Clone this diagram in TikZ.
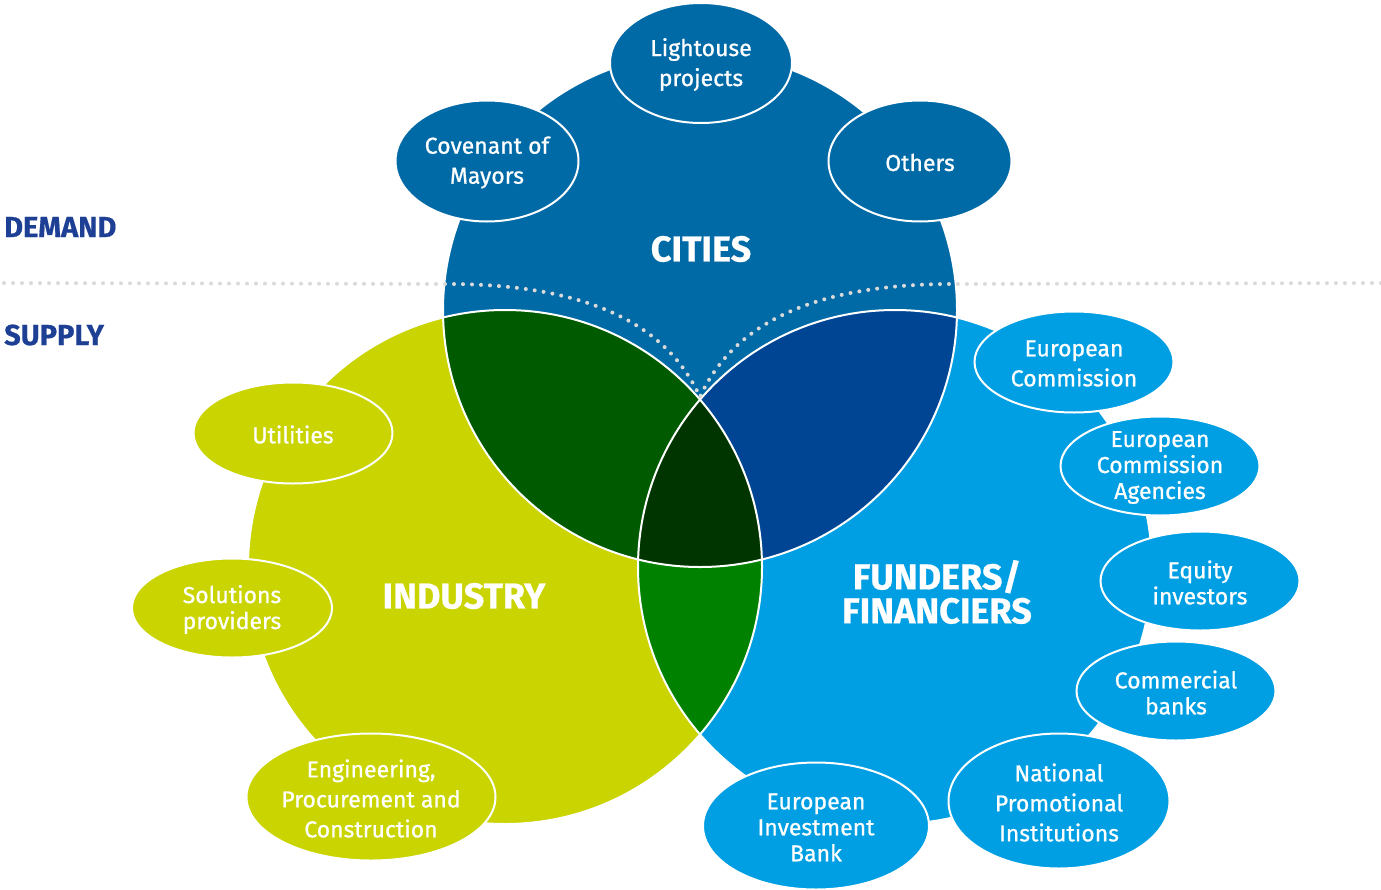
\documentclass[tikz,border=0pt]{standalone}
\usepackage{fontspec}
\setmainfont{Fira Sans}
\newfontfamily\medfont{Fira Sans}[FakeBold=0.8]
\newfontfamily\heavyfont{Fira Sans Bold}[FakeBold=0.6]
\usetikzlibrary{shapes.geometric}
\definecolor{cityblue}{HTML}{006AA7}
\definecolor{indyellow}{HTML}{C9D400}
\definecolor{fundblue}{HTML}{009FE3}
\definecolor{dkgreen}{HTML}{005A00}
\definecolor{navy}{HTML}{004494}
\definecolor{midgreen}{HTML}{008200}
\definecolor{triple}{HTML}{003500}
\definecolor{sidelbl}{HTML}{1D4094}
\definecolor{dotgray}{HTML}{DADADA}
\tikzset{
  blob/.style n args={3}{ellipse, draw=white, line width=2pt, fill=#1,
    minimum width=#2, minimum height=#3, inner sep=0pt},
  lbl/.style={text=white, align=center, inner sep=0pt, yshift=-1.5pt,
    font=\medfont\fontsize{23}{30}\selectfont},
  lbltight/.style={text=white, align=center, inner sep=0pt, yshift=-1.5pt,
    font=\medfont\fontsize{23}{26}\selectfont},
  title/.style={text=white, align=center, inner sep=0pt,
    font=\heavyfont\fontsize{36}{34}\selectfont},
  side/.style={text=sidelbl, anchor=west, inner sep=0pt,
    font=\heavyfont\fontsize{29}{30}\selectfont},
  ring/.style={draw=white, line width=2pt}
}
\begin{document}
\begin{tikzpicture}[x=1pt,y=-1pt]
\useasboundingbox (0,0) rectangle (1381,889);
\coordinate (C) at (700,310);
\coordinate (I) at (505,567);
\coordinate (F) at (895,567);
% base circles
\fill[cityblue] (C) circle[radius=257pt];
\fill[indyellow] (I) circle[radius=257pt];
\fill[fundblue] (F) circle[radius=257pt];
% pairwise intersections
\begin{scope}
  \clip (C) circle[radius=257pt];
  \fill[dkgreen] (I) circle[radius=257pt];
\end{scope}
\begin{scope}
  \clip (C) circle[radius=257pt];
  \fill[navy] (F) circle[radius=257pt];
\end{scope}
\begin{scope}
  \clip (I) circle[radius=257pt];
  \fill[midgreen] (F) circle[radius=257pt];
\end{scope}
\begin{scope}
  \clip (I) circle[radius=257pt];
  \clip (F) circle[radius=257pt];
  \fill[triple] (C) circle[radius=257pt];
\end{scope}
% white outlines
\draw[ring] (C) circle[radius=257pt];
\draw[ring] (I) circle[radius=257pt];
\draw[ring] (F) circle[radius=257pt];
% dotted demand/supply line
\coordinate (d0) at (4,283);
\coordinate (dl) at (447,284);
\coordinate (dm) at (700,397);
\coordinate (dr) at (953,284);
\coordinate (d1) at (1381,283);
\draw[dotgray, line width=4pt, line cap=round, dash pattern=on 0pt off 9pt]
  (d0) -- (dl) .. controls (580,284) and (665,320) .. (dm)
  .. controls (735,320) and (820,284) .. (dr) -- (d1);
% titles
\node[title] (cities) at (701,249) {CITIES};
\node[title] (industry) at (464,596) {INDUSTRY};
\node[title] (funders) at (937,592) {FUNDERS/\\FINANCIERS};
\node[side] (demand) at (4,227) {DEMAND};
\node[side] (supply) at (4,335) {SUPPLY};
% city ellipses
\node[blob={cityblue}{182pt}{120pt}, label={[lbl]center:{Lightouse\\projects}}] (light) at (701,63) {};
\node[blob={cityblue}{183pt}{121pt}, label={[lbl]center:{Covenant of\\Mayors}}] (cov) at (487,161) {};
\node[blob={cityblue}{183pt}{121pt}, label={[lbl]center:{Others}}] (oth) at (920,161) {};
% industry ellipses
\node[blob={indyellow}{199pt}{101pt}, label={[lbl]center:{Utilities}}] (util) at (293,433) {};
\node[blob={indyellow}{200pt}{99pt}, label={[lbltight]center:{Solutions\\providers}}] (sol) at (232,608) {};
\node[blob={indyellow}{249pt}{127pt}, label={[lbl]center:{Engineering,\\Procurement and\\Construction}}] (epc) at (371,797) {};
% funders ellipses
\node[blob={fundblue}{199pt}{101pt}, label={[lbl]center:{European\\Commission}}] (ec) at (1074,362) {};
\node[blob={fundblue}{199pt}{99pt}, label={[lbltight]center:{European\\Commission\\Agencies}}] (eca) at (1160,466) {};
\node[blob={fundblue}{199pt}{99pt}, label={[lbltight]center:{Equity\\investors}}] (eq) at (1200,581) {};
\node[blob={fundblue}{199pt}{99pt}, label={[lbltight]center:{Commercial\\banks}}] (cb) at (1176,691) {};
\node[blob={fundblue}{221pt}{135pt}, label={[lbl]center:{National\\Promotional\\Institutions}}] (npi) at (1059,801) {};
\node[blob={fundblue}{226pt}{127pt}, label={[lbltight]center:{European\\Investment\\Bank}}] (eib) at (816,826) {};
\end{tikzpicture}
\end{document}
